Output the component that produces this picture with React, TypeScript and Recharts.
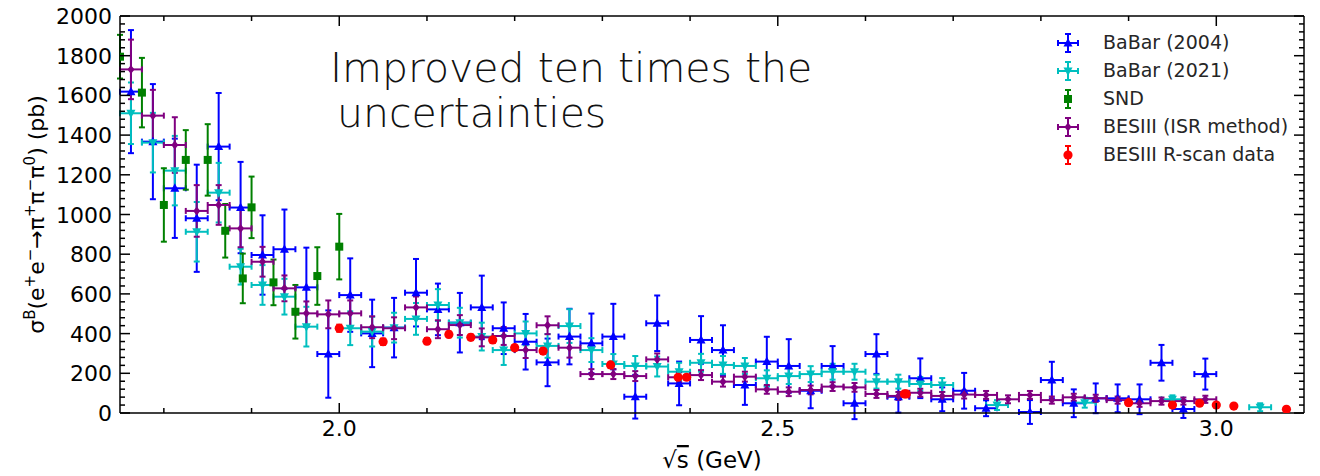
import React from "react";
import { ScatterChart, Scatter, XAxis, YAxis, ErrorBar, Legend } from "recharts";

// BaBar (2004)
const babar04E = [1.7625, 1.7875, 1.8125, 1.8375, 1.8625, 1.8875, 1.9125, 1.9375, 1.9625, 1.9875, 2.0125, 2.0375, 2.0625, 2.0875, 2.1125, 2.1375, 2.1625, 2.1875, 2.2125, 2.2375, 2.2625, 2.2875, 2.3125, 2.3375, 2.3625, 2.3875, 2.4125, 2.4375, 2.4625, 2.4875, 2.5125, 2.5375, 2.5625, 2.5875, 2.6125, 2.6375, 2.6625, 2.6875, 2.7125, 2.7375, 2.7875, 2.8125, 2.8375, 2.8625, 2.8875, 2.9125, 2.9375, 2.9625, 2.9875];
const babar04Sigma = [1619, 1367, 1132, 981, 1342, 1035, 796, 825, 633, 297, 594, 401, 430, 606, 522, 455, 532, 427, 359, 255, 385, 351, 385, 82, 452, 149, 368, 317, 141, 259, 237, 112, 237, 49, 297, 82, 175, 69, 112, 24, 5, 166, 49, 74, 74, 69, 253, 20, 196];
const babar04Err = [310, 290, 250, 270, 270, 230, 200, 200, 200, 220, 185, 170, 150, 170, 130, 150, 160, 130, 140, 120, 140, 150, 165, 110, 140, 110, 120, 125, 100, 125, 135, 88, 100, 80, 100, 80, 100, 60, 90, 40, 60, 92, 70, 75, 70, 75, 90, 45, 78];

// BaBar (2021)
const babar21E = [1.7625, 1.7875, 1.8125, 1.8375, 1.8625, 1.8875, 1.9125, 1.9375, 1.9625, 2.0125, 2.0375, 2.0625, 2.0875, 2.1125, 2.1375, 2.1625, 2.1875, 2.2125, 2.2375, 2.2625, 2.2875, 2.3125, 2.3375, 2.3625, 2.3875, 2.4125, 2.4375, 2.4625, 2.4875, 2.5125, 2.5375, 2.5625, 2.5875, 2.6125, 2.6375, 2.6625, 2.6875, 2.75, 2.85, 2.95, 3.05];
const babar21Sigma = [1510, 1362, 1221, 913, 1110, 737, 645, 586, 435, 427, 410, 430, 474, 544, 455, 385, 317, 401, 338, 438, 317, 247, 237, 234, 208, 253, 242, 237, 175, 186, 196, 208, 208, 158, 158, 146, 141, 40, 52, 69, 29];
const babar21Err = [155, 150, 175, 150, 150, 90, 100, 90, 100, 85, 75, 75, 80, 80, 75, 70, 75, 60, 60, 85, 60, 50, 50, 50, 45, 45, 45, 40, 40, 40, 40, 40, 40, 35, 35, 35, 35, 25, 25, 20, 20];

// SND
const sndE = [1.75, 1.775, 1.8, 1.825, 1.85, 1.87, 1.89, 1.9, 1.925, 1.95, 1.975, 2.0];
const sndSigma = [1795, 1614, 1048, 1275, 1275, 918, 678, 1036, 658, 510, 690, 838];
const sndErr = [110, 175, 185, 150, 180, 135, 125, 155, 115, 135, 145, 165];

// BESIII (ISR method)
const besIsrE = [1.7625, 1.7875, 1.8125, 1.8375, 1.8625, 1.8875, 1.9125, 1.9375, 1.9625, 1.9875, 2.0125, 2.0375, 2.0625, 2.0875, 2.1125, 2.1375, 2.1625, 2.1875, 2.2125, 2.2375, 2.2625, 2.2875, 2.3125, 2.3375, 2.3625, 2.3875, 2.4125, 2.4375, 2.4625, 2.4875, 2.5125, 2.5375, 2.5625, 2.5875, 2.6125, 2.6375, 2.6625, 2.6875, 2.7125, 2.7375, 2.7625, 2.7875, 2.8125, 2.8375, 2.8625, 2.8875, 2.9125, 2.9375, 2.9625, 2.9875];
const besIsrSigma = [1731, 1498, 1350, 1018, 1048, 930, 762, 628, 502, 497, 502, 432, 427, 532, 422, 443, 381, 388, 317, 442, 329, 196, 196, 186, 270, 180, 191, 158, 183, 119, 107, 116, 133, 129, 96, 86, 102, 86, 93, 91, 69, 91, 65, 79, 74, 65, 49, 60, 60, 69];
const besIsrErr = [150, 130, 140, 130, 100, 95, 75, 65, 60, 70, 65, 55, 55, 55, 45, 50, 45, 45, 40, 45, 50, 25, 25, 25, 30, 25, 25, 25, 25, 22, 22, 22, 22, 22, 20, 20, 20, 20, 20, 20, 20, 20, 18, 18, 18, 18, 18, 18, 18, 18];

// BESIII R-scan data
const rscanE = [2.0, 2.05, 2.1, 2.125, 2.15, 2.175, 2.2, 2.2324, 2.3094, 2.3864, 2.396, 2.6444, 2.6464, 2.9, 2.95, 2.981, 3.0, 3.02, 3.08];
const rscanSigma = [427, 359, 362, 396, 381, 368, 329, 312, 242, 180, 180, 96, 96, 52, 40, 49, 40, 35, 19];
const rscanErr = [18, 16, 15, 14, 14, 14, 13, 13, 12, 10, 10, 8, 8, 6, 6, 6, 6, 6, 5];

const xTicks = [1.8, 1.9, 2.0, 2.1, 2.2, 2.3, 2.4, 2.5, 2.6, 2.7, 2.8, 2.9, 3.0];
const yTicks = Array.from({ length: 51 }, (_, i) => i * 40);

const FONT = "DejaVu Sans, sans-serif";
const BIN_HALF = 0.0125;

type Kind = "up" | "down" | "square" | "diamond" | "circle";

const series = [
  { name: "BaBar (2004)", color: "#0000ff", kind: "up" as Kind, xbar: true, data: babar04E.map((x, i) => ({ x, y: babar04Sigma[i], ey: babar04Err[i], ex: BIN_HALF })) },
  { name: "BaBar (2021)", color: "#00bfbf", kind: "down" as Kind, xbar: true, data: babar21E.map((x, i) => ({ x, y: babar21Sigma[i], ey: babar21Err[i], ex: BIN_HALF })) },
  { name: "SND", color: "#008000", kind: "square" as Kind, xbar: false, data: sndE.map((x, i) => ({ x, y: sndSigma[i], ey: sndErr[i] })) },
  { name: "BESIII (ISR method)", color: "#800080", kind: "diamond" as Kind, xbar: true, data: besIsrE.map((x, i) => ({ x, y: besIsrSigma[i], ey: besIsrErr[i], ex: BIN_HALF })) },
  { name: "BESIII R-scan data", color: "#ff0000", kind: "circle" as Kind, xbar: false, data: rscanE.map((x, i) => ({ x, y: rscanSigma[i], ey: rscanErr[i] })) },
];

function marker(kind: Kind, cx: number, cy: number, color: string) {
  switch (kind) {
    case "up":
      return <polygon points={`${cx},${cy - 5} ${cx - 4.5},${cy + 3.5} ${cx + 4.5},${cy + 3.5}`} fill={color} />;
    case "down":
      return <polygon points={`${cx},${cy + 5} ${cx - 4.5},${cy - 3.5} ${cx + 4.5},${cy - 3.5}`} fill={color} />;
    case "square":
      return <rect x={cx - 4} y={cy - 4} width={8} height={8} fill={color} />;
    case "diamond":
      return <polygon points={`${cx},${cy - 4.5} ${cx + 3.5},${cy} ${cx},${cy + 4.5} ${cx - 3.5},${cy}`} fill={color} />;
    default:
      return <circle cx={cx} cy={cy} r={4.6} fill={color} />;
  }
}

const isMajor = (v: number, step: number) => Math.abs(v / step - Math.round(v / step)) < 1e-6;

const BottomTick = ({ x, y, payload }: any) => {
  const major = isMajor(payload.value, 0.5);
  return (
    <g>
      <line x1={x} y1={y} x2={x} y2={y - (major ? 10 : 5)} stroke="#000" strokeWidth={1.5} />
      {major && (
        <text x={x} y={y + 23} textAnchor="middle" fontSize={22} fontFamily={FONT} fill="#000">
          {payload.value.toFixed(1)}
        </text>
      )}
    </g>
  );
};

const TopTick = ({ x, y, payload }: any) => {
  const major = isMajor(payload.value, 0.5);
  return <line x1={x} y1={y} x2={x} y2={y + (major ? 10 : 5)} stroke="#000" strokeWidth={1.5} />;
};

const LeftTick = ({ x, y, payload }: any) => {
  const major = isMajor(payload.value, 200);
  return (
    <g>
      <line x1={x} y1={y} x2={x + (major ? 10 : 5)} y2={y} stroke="#000" strokeWidth={1.5} />
      {major && (
        <text x={x - 8} y={y + 8} textAnchor="end" fontSize={22} fontFamily={FONT} fill="#000">
          {payload.value}
        </text>
      )}
    </g>
  );
};

const RightTick = ({ x, y, payload }: any) => {
  const major = isMajor(payload.value, 200);
  return <line x1={x} y1={y} x2={x - (major ? 10 : 5)} y2={y} stroke="#000" strokeWidth={1.5} />;
};

const YLabel = ({ viewBox }: any) => {
  const cy = viewBox.y + viewBox.height / 2;
  return (
    <text transform={`translate(44, ${cy}) rotate(-90)`} textAnchor="middle" fontSize={22} fontFamily={FONT} fill="#000">
      σ
      <tspan dy={-9} fontSize={15}>B</tspan>
      <tspan dy={9}>(e</tspan>
      <tspan dy={-9} fontSize={15}>+</tspan>
      <tspan dy={9}>e</tspan>
      <tspan dy={-9} fontSize={15}>−</tspan>
      <tspan dy={9}>→π</tspan>
      <tspan dy={-9} fontSize={15}>+</tspan>
      <tspan dy={9}>π</tspan>
      <tspan dy={-9} fontSize={15}>−</tspan>
      <tspan dy={9}>π</tspan>
      <tspan dy={-9} fontSize={15}>0</tspan>
      <tspan dy={9}>) (pb)</tspan>
    </text>
  );
};

const XLabel = ({ viewBox }: any) => {
  const cx = viewBox.x + viewBox.width / 2;
  return (
    <text x={cx} y={468} textAnchor="middle" fontSize={23} fontFamily={FONT} fill="#000">
      √<tspan style={{ textDecoration: "overline" }}>s</tspan> (GeV)
    </text>
  );
};

const LegendBox = () => (
  <div style={{ fontFamily: FONT, fontSize: 19, color: "#262626" }}>
    {series.map((s) => (
      <div key={s.name} style={{ position: "relative", height: 28, whiteSpace: "nowrap" }}>
        <svg width={40} height={28} style={{ position: "absolute", left: 8, top: 0 }}>
          {s.xbar && (
            <g stroke={s.color} strokeWidth={2}>
              <line x1={10} y1={14} x2={30} y2={14} />
              <line x1={10} y1={11} x2={10} y2={17} />
              <line x1={30} y1={11} x2={30} y2={17} />
            </g>
          )}
          <g stroke={s.color} strokeWidth={2}>
            <line x1={20} y1={5} x2={20} y2={23} />
            <line x1={17} y1={5} x2={23} y2={5} />
            <line x1={17} y1={23} x2={23} y2={23} />
          </g>
          {marker(s.kind, 20, 14, s.color)}
        </svg>
        <span style={{ position: "absolute", left: 63, top: 2, lineHeight: "22px" }}>{s.name}</span>
      </div>
    ))}
  </div>
);

export default function App() {
  return (
    <div style={{ position: "absolute", left: 0, top: 0, width: 1320, height: 476, background: "#fff" }}>
      <ScatterChart width={1320} height={476} margin={{ top: 15, right: 15, bottom: 0, left: 0 }}>
        <XAxis
          xAxisId="x"
          dataKey="x"
          type="number"
          domain={[1.75, 3.1]}
          allowDataOverflow
          ticks={xTicks}
          interval={0}
          height={63}
          tickSize={0}
          tickMargin={0}
          tick={<BottomTick />}
          axisLine={{ stroke: "#000", strokeWidth: 1.5 }}
          label={<XLabel />}
        />
        <XAxis
          xAxisId="t"
          dataKey="x"
          orientation="top"
          type="number"
          domain={[1.75, 3.1]}
          allowDataOverflow
          ticks={xTicks}
          interval={0}
          height={1}
          tickSize={0}
          tickMargin={0}
          tick={<TopTick />}
          axisLine={{ stroke: "#000", strokeWidth: 1.5 }}
        />
        <YAxis
          yAxisId="y"
          dataKey="y"
          type="number"
          domain={[0, 2000]}
          allowDataOverflow
          ticks={yTicks}
          interval={0}
          width={120}
          tickSize={0}
          tickMargin={0}
          tick={<LeftTick />}
          axisLine={{ stroke: "#000", strokeWidth: 1.5 }}
          label={<YLabel />}
        />
        <YAxis
          yAxisId="r"
          dataKey="y"
          orientation="right"
          type="number"
          domain={[0, 2000]}
          allowDataOverflow
          ticks={yTicks}
          interval={0}
          width={1}
          tickSize={0}
          tickMargin={0}
          tick={<RightTick />}
          axisLine={{ stroke: "#000", strokeWidth: 1.5 }}
        />
        {/* invisible series so the top and right frame axes get a domain */}
        <Scatter
          name="frame"
          data={series[4].data}
          xAxisId="t"
          yAxisId="r"
          isAnimationActive={false}
          shape={() => <g />}
          legendType="none"
        />
        {series.map((s) => (
          <Scatter
            key={s.name}
            name={s.name}
            data={s.data}
            xAxisId="x"
            yAxisId="y"
            fill={s.color}
            isAnimationActive={false}
            shape={(p: any) => marker(s.kind, p.cx, p.cy, s.color)}
          >
            {s.xbar && <ErrorBar dataKey="ex" direction="x" width={3} strokeWidth={2} stroke={s.color} />}
            <ErrorBar dataKey="ey" direction="y" width={3} strokeWidth={2} stroke={s.color} />
          </Scatter>
        ))}
        <Legend
          layout="vertical"
          align="center"
          verticalAlign="middle"
          wrapperStyle={{ position: "absolute", left: 1040, top: 29, width: 265, height: 140 }}
          content={<LegendBox />}
        />
      </ScatterChart>
      <svg width={1320} height={476} style={{ position: "absolute", left: 0, top: 0, pointerEvents: "none" }}>
        <text x={330} y={82} fontSize={41} fontFamily={FONT} fontWeight={200} fill="#111">
          Improved ten times the
        </text>
        <text x={337} y={127} fontSize={41} fontFamily={FONT} fontWeight={200} fill="#111">
          uncertainties
        </text>
      </svg>
    </div>
  );
}
